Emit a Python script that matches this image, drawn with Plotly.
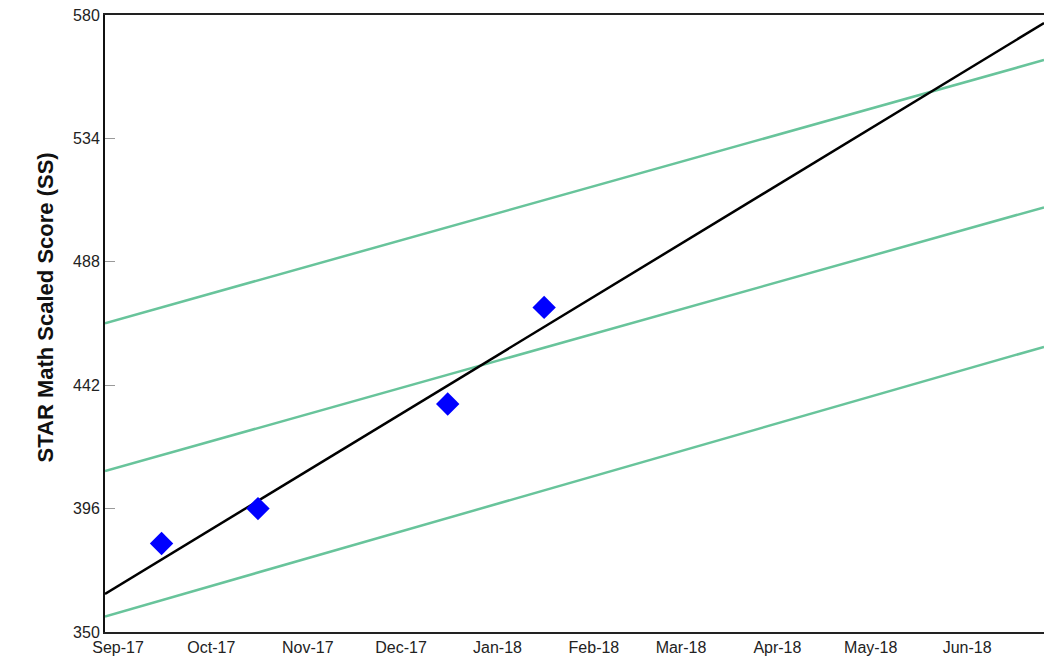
import plotly.graph_objects as go

# ---- data ----
score_dates = ["2017-09-15", "2017-10-16", "2017-12-16", "2018-01-16"]
score_values = [383, 396, 435, 471]

line_dates = ["2017-08-27 19:40", "2018-06-25 17:00"]
trend_values = [364.2, 577.0]
goal_high_values = [465.1, 563.2]
goal_mid_values = [410.0, 508.3]
goal_low_values = [355.8, 456.3]

month_ticks = ["2017-09-01", "2017-10-01", "2017-11-01", "2017-12-01", "2018-01-01",
               "2018-02-01", "2018-03-01", "2018-04-01", "2018-05-01", "2018-06-01"]
month_labels = ["Sep-17", "Oct-17", "Nov-17", "Dec-17", "Jan-18",
                "Feb-18", "Mar-18", "Apr-18", "May-18", "Jun-18"]
y_ticks = [350, 396, 442, 488, 534, 580]
y_title = "STAR Math Scaled Score (SS)"

GREEN = "#68c49b"
FONT = "Liberation Sans, Arial, sans-serif"

fig = go.Figure()
for vals in (goal_high_values, goal_mid_values, goal_low_values):
    fig.add_trace(go.Scatter(x=line_dates, y=vals, mode="lines",
                             line=dict(color=GREEN, width=2.5), hoverinfo="skip"))
fig.add_trace(go.Scatter(x=line_dates, y=trend_values, mode="lines",
                         line=dict(color="#000000", width=2.5), hoverinfo="skip"))
fig.add_trace(go.Scatter(x=score_dates, y=score_values, mode="markers",
                         marker=dict(symbol="diamond", size=18, color="#0000ff",
                                     line=dict(width=0))))

fig.update_layout(
    width=1044, height=662,
    margin=dict(l=105, r=0, t=15, b=30),
    paper_bgcolor="white", plot_bgcolor="white",
    showlegend=False,
    font=dict(family=FONT, size=16, color="#222222"),
    annotations=[dict(text="<b>" + y_title + "</b>", xref="paper", yref="paper",
                      x=0, y=0.526, xshift=-60, xanchor="center", yanchor="middle",
                      textangle=-90, showarrow=False,
                      font=dict(size=22, color="#111111", family=FONT))],
)
fig.update_xaxes(
    type="date",
    range=[line_dates[0], line_dates[1]],
    tickvals=month_ticks, ticktext=month_labels,
    showgrid=False, zeroline=False,
    showline=True, linecolor="#222222", linewidth=2, mirror=True,
    ticks="", tickfont=dict(size=16, color="#222222"),
)
fig.update_yaxes(
    range=[350, 580],
    tickvals=y_ticks, ticktext=[str(v) for v in y_ticks],
    showgrid=False, zeroline=False,
    showline=True, linecolor="#111111", linewidth=2,
    ticks="inside", ticklen=10, tickcolor="#999999", tickwidth=1,
    tickfont=dict(size=16, color="#222222"),
)

fig.write_html(
    "out.html",
    config={"displayModeBar": False},
    post_script=("document.body.style.margin='0';"
                 "document.body.style.overflow='hidden';"
                 "document.documentElement.style.overflow='hidden';"),
)
